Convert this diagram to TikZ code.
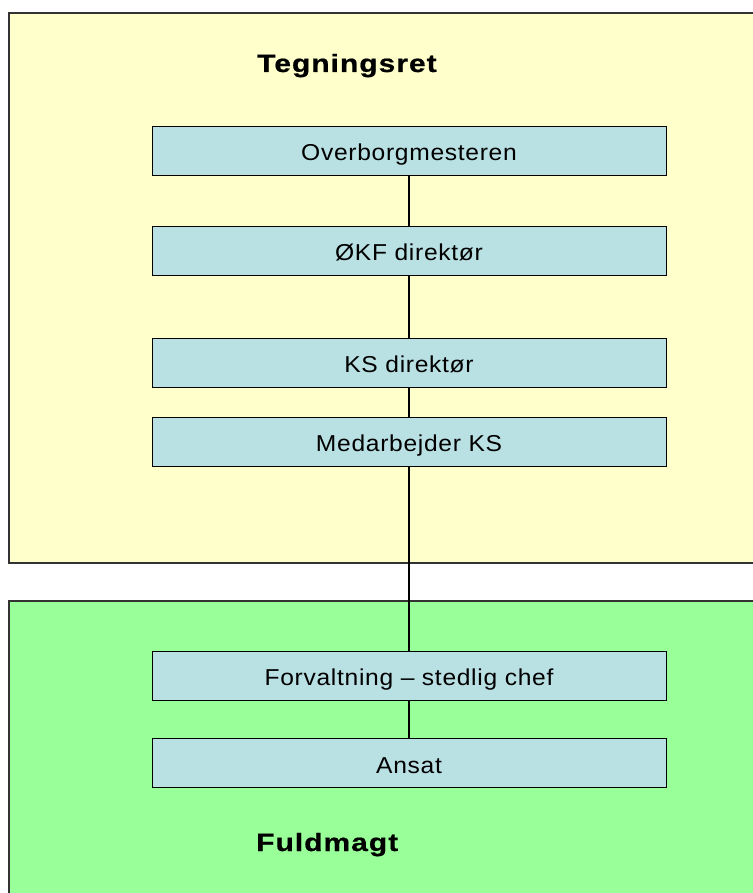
\documentclass[tikz,border=0pt]{standalone}
\usepackage{fontspec}
\setmainfont[FakeStretch=1.07,LetterSpace=3]{Liberation Sans}
\newfontfamily\headfont[FakeStretch=1.2,LetterSpace=4,FakeBold=0.6]{Liberation Sans Bold}
\usetikzlibrary{positioning}
\definecolor{signyellow}{HTML}{FFFFCC}
\definecolor{proxygreen}{HTML}{99FF99}
\definecolor{boxblue}{HTML}{B9E0E3}
\tikzset{
block/.style={
  rectangle,
  draw,
  fill=boxblue,
  minimum width=514pt,
  minimum height=49pt,
  inner sep=0pt,
  text height=22pt,
  text depth=2pt,
  font=\fontsize{23}{26}\selectfont},
line/.style={draw, line width=1.4pt},
area/.style={draw=black!80, line width=2pt},
heading/.style={font=\headfont\fontsize{25}{28}\selectfont, anchor=base west, inner sep=0pt}
}
\begin{document}
\begin{tikzpicture}[x=1pt, y=-1pt]
    \useasboundingbox (0,0) rectangle (752,893);
    \path [area, fill=signyellow] (9,13) rectangle (780,563);
    \path [area, fill=proxygreen] (9,601) rectangle (780,930);
    \node [heading] (tegn) at (257,72) {Tegningsret};
    \node [heading] (fuld) at (256,851) {Fuldmagt};
    \node [block] (obm) at (409,151) {Overborgmesteren};
    \node [block, below=50pt of obm] (okf) {ØKF direktør};
    \node [block, below=63pt of okf] (ksdir) {KS direktør};
    \node [block, below=29pt of ksdir] (ksmed) {Medarbejder KS};
    \node [block, below=185pt of ksmed] (forv) {Forvaltning – stedlig chef};
    \node [block, below=38pt of forv] (ansat) {Ansat};
    \path [line] (obm) -- (okf);
    \path [line] (okf) -- (ksdir);
    \path [line] (ksdir) -- (ksmed);
    \path [line] (ksmed) -- (forv);
    \path [line] (forv) -- (ansat);
\end{tikzpicture}
\end{document}
